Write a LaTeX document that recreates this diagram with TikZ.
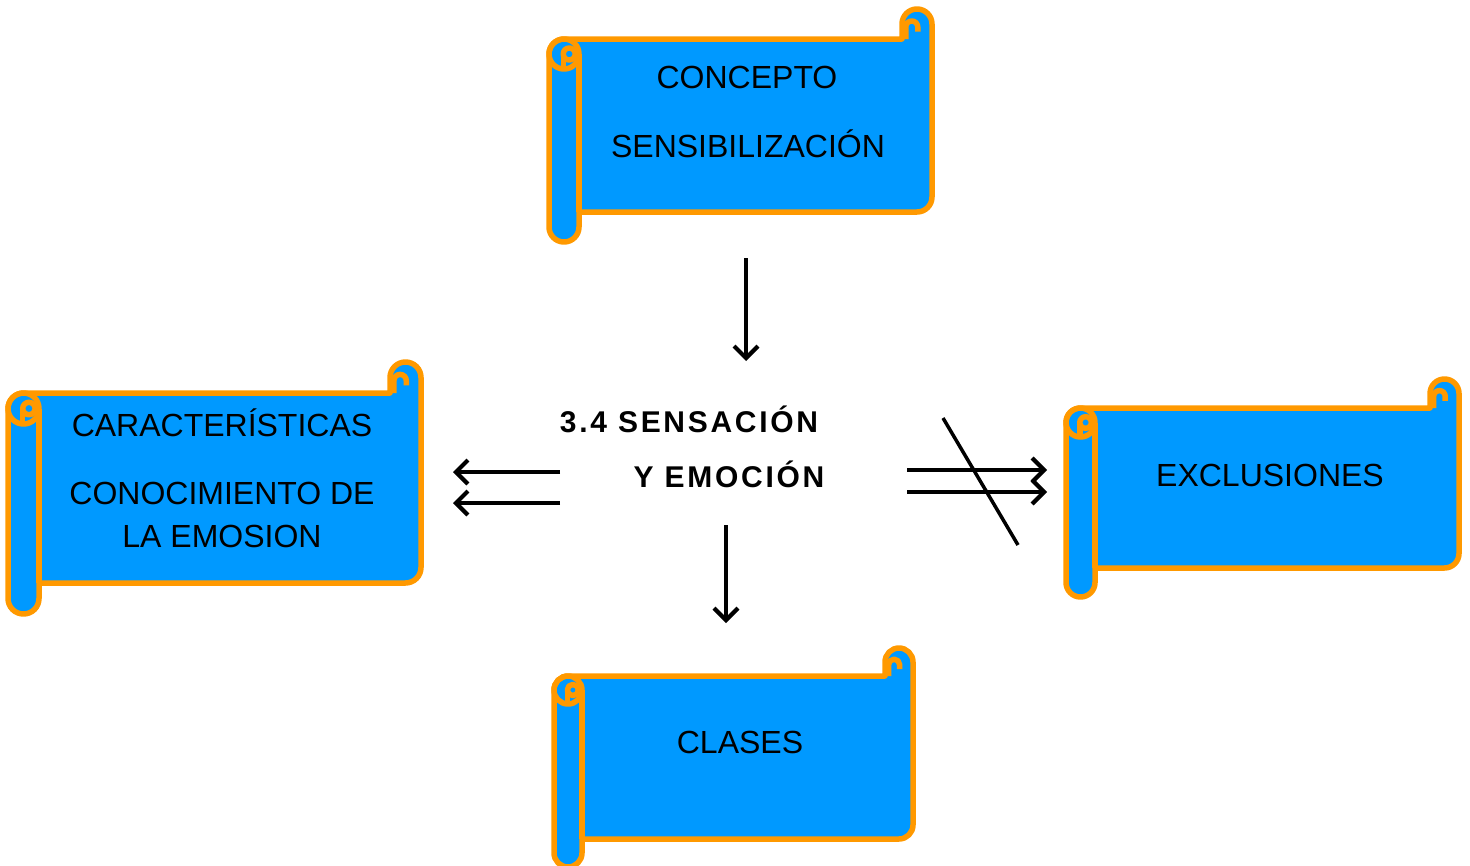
\documentclass[tikz,border=0pt]{standalone}
\usepackage{fontspec}
\setmainfont{Liberation Sans}
\usetikzlibrary{arrows.meta}
\definecolor{scrollblue}{RGB}{0,153,255}
\definecolor{scrollorange}{RGB}{255,153,0}
\newcommand\scrollbox[5]{%
\pgfmathsetmacro\sL{#1}\pgfmathsetmacro\sT{#2}\pgfmathsetmacro\sR{#3}%
\pgfmathsetmacro\sB{#4}\pgfmathsetmacro\sd{#5}\pgfmathsetmacro\sr{#5/2}%
\draw[scrollline, fill=scrollblue]
 (\sL,\sT+\sd+\sr) arc[start angle=180,end angle=270,radius=\sr]
 -- (\sR-\sd,\sT+\sd) -- (\sR-\sd,\sT+\sr)
 arc[start angle=180,end angle=360,radius=\sr]
 -- (\sR,\sB-\sd-\sr) arc[start angle=0,end angle=90,radius=\sr]
 -- (\sL+\sd,\sB-\sd) -- (\sL+\sd,\sB-\sr)
 arc[start angle=0,end angle=180,radius=\sr] -- cycle;
\draw[scrollline] (\sL+\sd,\sT+\sd+\sr) -- (\sL+\sd,\sB-\sd);
\draw[scrollline] (\sL+\sr,\sT+\sd+\sr) circle[radius=\sr];
\draw[scrollline] (\sL+\sr+0.35*\sr,\sT+\sd+\sr) circle[radius=0.4*\sr];
\draw[scrollline] (\sL+\sr-0.05*\sr,\sT+\sd+\sr) -- (\sL+\sr-0.05*\sr,\sT+2*\sd);
\draw[scrollline] (\sR-\sd+0.25*\sr,\sT+\sd) -- (\sR-\sd+0.25*\sr,\sT+1.2*\sr)
 arc[start angle=180,end angle=360,radius=0.4*\sr] -- ++(0,0.3*\sr);
}
\begin{document}
\begin{tikzpicture}[x=1pt,y=-1pt,
 scrollline/.style={draw=scrollorange, line width=5.5pt, line join=round},
 lbl/.style={anchor=base, font=\fontsize{32}{36}\selectfont, inner sep=0pt},
 ttl/.style={anchor=base, font=\fontsize{30}{34}\selectfont\bfseries\addfontfeature{LetterSpace=9}, inner sep=0pt},
 arr/.style={line width=4.2pt, -{Straight Barb[length=12pt,width=24pt]}},
 cross/.style={line width=3.5pt}]
\useasboundingbox (0,0) rectangle (1470,865);
% scrolls
\scrollbox{549}{9}{932}{242}{30}
\scrollbox{8}{362}{421}{614}{31}
\scrollbox{1066}{379}{1459}{597}{29}
\scrollbox{554}{648}{913}{867}{28}
% texts
\node[lbl] (concepto) at (747,88) {CONCEPTO};
\node[lbl] (sensib) at (748,157) {SENSIBILIZACIÓN};
\node[lbl] (carac) at (222,436) {CARACTERÍSTICAS};
\node[lbl] (conoc) at (222,504) {CONOCIMIENTO DE};
\node[lbl] (emosion) at (222,547) {LA EMOSION};
\node[lbl] (exclus) at (1270,486) {EXCLUSIONES};
\node[lbl] (clases) at (740,753) {CLASES};
\node[ttl] (title1) at (689,432) {3.4 SENSACIÓN};
\node[ttl] (title2) at (729,487) {Y EMOCIÓN};
% arrow endpoints
\coordinate (dA1) at (746,258); \coordinate (dA2) at (746,361);
\coordinate (dB1) at (726,525); \coordinate (dB2) at (726,623);
\coordinate (lA1) at (560,472); \coordinate (lA2) at (453,472);
\coordinate (lB1) at (560,503); \coordinate (lB2) at (453,503);
\coordinate (rA1) at (907,470); \coordinate (rA2) at (1047,470);
\coordinate (rB1) at (907,492); \coordinate (rB2) at (1047,492);
\coordinate (x1) at (943,418); \coordinate (x2) at (1018,545);
\draw[arr] (dA1) -- (dA2);
\draw[arr] (dB1) -- (dB2);
\draw[arr] (lA1) -- (lA2);
\draw[arr] (lB1) -- (lB2);
\draw[arr] (rA1) -- (rA2);
\draw[arr] (rB1) -- (rB2);
\draw[cross] (x1) -- (x2);
\end{tikzpicture}
\end{document}
